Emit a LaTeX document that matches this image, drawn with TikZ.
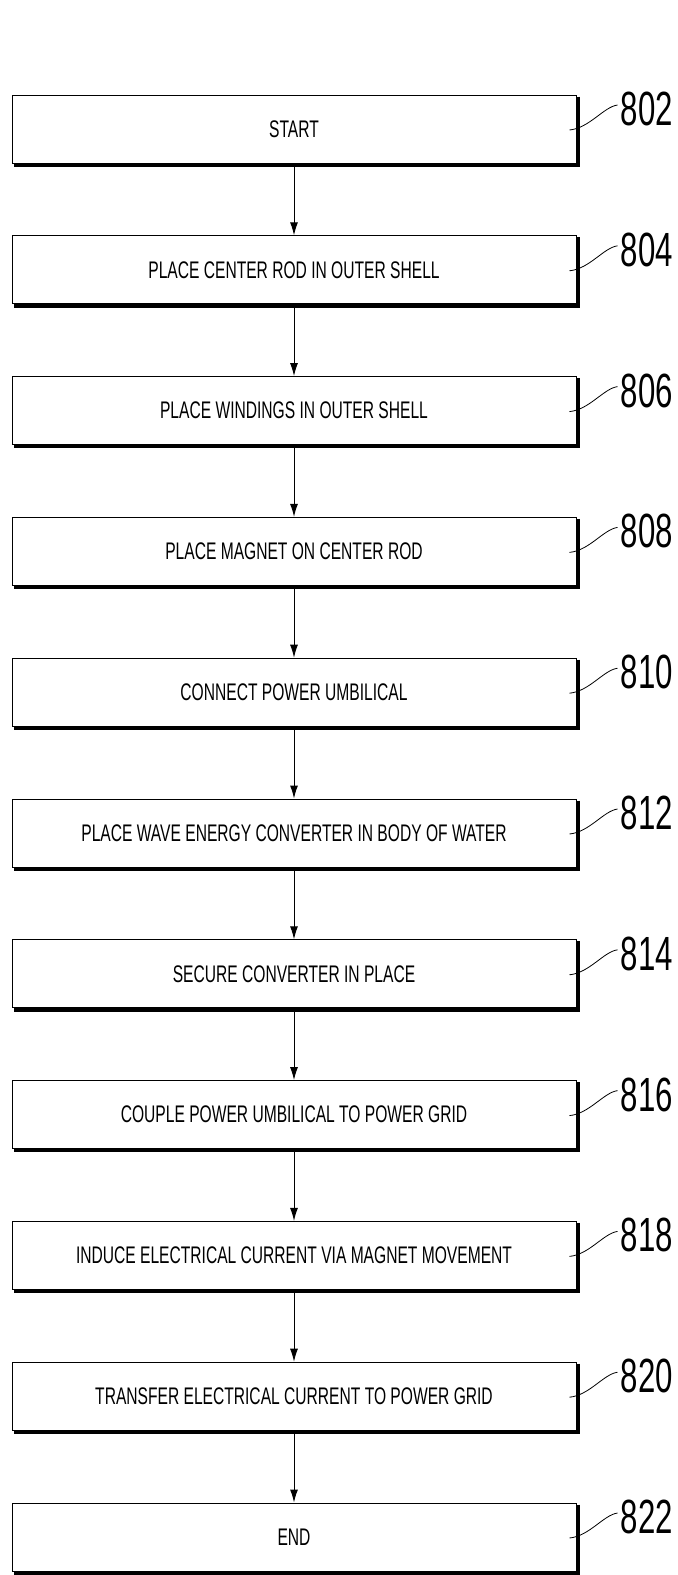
\documentclass[tikz,border=0pt]{standalone}
\usepackage{fontspec}
\setmainfont{Liberation Sans}
\newfontfamily\narrowfont[FakeStretch=0.65]{Liberation Sans}
\usetikzlibrary{arrows.meta,positioning,calc}

\begin{document}
\begin{tikzpicture}[x=0.5pt,y=-0.5pt,node distance=35.9pt,
    stepbox/.style={draw,line width=0.5pt,minimum width=282pt,minimum height=34pt,inner sep=0pt,
      font=\narrowfont\fontsize{12}{14}\selectfont},
    flow/.style={-{Latex[length=6.5pt,width=4pt]},line width=0.5pt},
    refnum/.style={anchor=west,inner sep=1.5pt,font=\narrowfont\fontsize{24}{26}\selectfont}]
  \useasboundingbox (0,0) rectangle (677,1575);
  \node[stepbox] (s802) at (294,129) {START};
  \node[stepbox,below=of s802] (s804) {PLACE CENTER ROD IN OUTER SHELL};
  \node[stepbox,below=of s804] (s806) {PLACE WINDINGS IN OUTER SHELL};
  \node[stepbox,below=of s806] (s808) {PLACE MAGNET ON CENTER ROD};
  \node[stepbox,below=of s808] (s810) {CONNECT POWER UMBILICAL};
  \node[stepbox,below=of s810] (s812) {PLACE WAVE ENERGY CONVERTER IN BODY OF WATER};
  \node[stepbox,below=of s812] (s814) {SECURE CONVERTER IN PLACE};
  \node[stepbox,below=of s814] (s816) {COUPLE POWER UMBILICAL TO POWER GRID};
  \node[stepbox,below=of s816] (s818) {INDUCE ELECTRICAL CURRENT VIA MAGNET MOVEMENT};
  \node[stepbox,below=of s818] (s820) {TRANSFER ELECTRICAL CURRENT TO POWER GRID};
  \node[stepbox,below=of s820] (s822) {END};
  % arrows between steps
  \foreach \a/\b in {802/804,804/806,806/808,808/810,810/812,812/814,814/816,816/818,818/820,820/822}
    \draw[flow] (s\a) -- (s\b);
  % heavy edges and reference numerals
  \foreach \n in {802,804,...,822} {
    \draw[line width=1.6pt] ([xshift=0.8pt,yshift=-1pt]s\n.north east) -- ([xshift=0.8pt,yshift=-0.8pt]s\n.south east)
      -- ([xshift=1pt,yshift=-0.8pt]s\n.south west);
    \draw[line width=0.4pt] ([xshift=-3.5pt,yshift=-0.5pt]s\n.east) .. controls +(10pt,1pt) and +(-7pt,-1pt)
      .. ([xshift=20.5pt,yshift=12pt]s\n.east) node[refnum,yshift=-2pt] {\n};
  }
\end{tikzpicture}
\end{document}
